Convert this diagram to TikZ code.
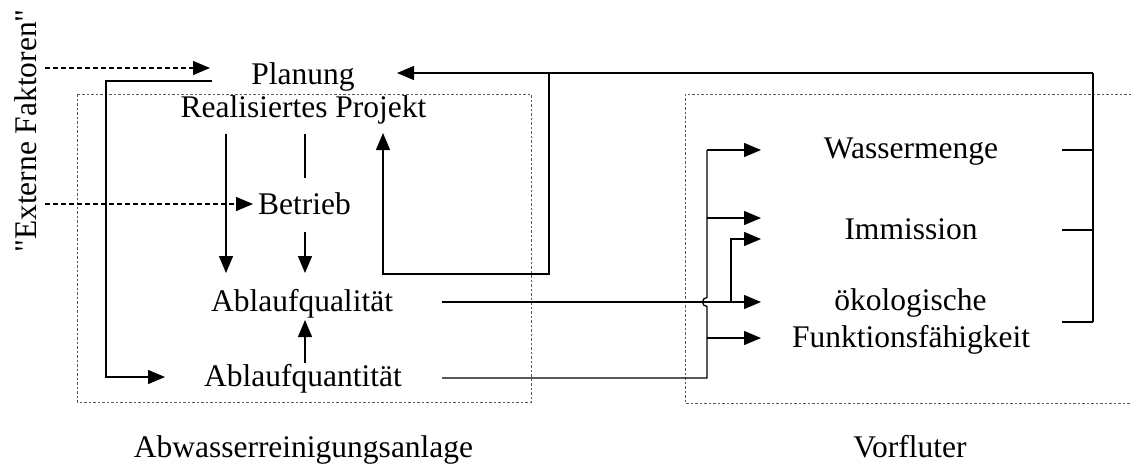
\documentclass[tikz,border=0pt]{standalone}
\usepackage{fontspec}
\setmainfont{Liberation Serif}
\newfontfamily\plainquote{Liberation Serif}[Ligatures=TeXOff]
\usetikzlibrary{arrows.meta}
\begin{document}
\begin{tikzpicture}[x=1pt,y=-1pt,
  lbl/.style={inner sep=0pt,anchor=base,font=\fontsize{31.5}{35}\selectfont},
  conn/.style={line width=1.3pt},
  arr/.style={conn,-{Triangle[length=17pt,width=14pt]}},
  extarr/.style={arr,dash pattern=on 5pt off 3pt},
  frame/.style={line width=0.9pt,gray!70!black,dash pattern=on 2.5pt off 2pt}]
\useasboundingbox (0,0) rectangle (1132,464);
% frames
\draw[frame] (77,94) rectangle (531,402);
\draw[frame] (1140,94) -- (685,94) -- (685,403) -- (1140,403);
% labels
\node[lbl] (plan)  at (303,84)  {Planung};
\node[lbl] (real)  at (303.5,117) {Realisiertes Projekt};
\node[lbl] (betr)  at (304.5,214) {Betrieb};
\node[lbl] (qual)  at (302,311) {Ablaufqualität};
\node[lbl] (quant) at (303,386) {Ablaufquantität};
\node[lbl] (wm)    at (911,158) {Wassermenge};
\node[lbl] (imm)   at (911,239) {Immission};
\node[lbl] (oeko)  at (910.5,310) {ökologische};
\node[lbl] (funk)  at (911,347) {Funktionsfähigkeit};
\node[lbl] (abw)   at (303.5,457) {Abwasserreinigungsanlage};
\node[lbl] (vorf)  at (910,457) {Vorfluter};
\node[inner sep=0pt,font=\fontsize{31.5}{35}\selectfont\plainquote,rotate=90] (ext) at (26,131) {"Externe Faktoren"};
% coordinates
\coordinate (e1) at (45,68);   \coordinate (e1t) at (210,68);
\coordinate (e2) at (45,204);  \coordinate (e2t) at (253,204);
\coordinate (p0) at (212,81);  \coordinate (p1) at (106,81);
\coordinate (p2) at (106,377); \coordinate (p3) at (165,377);
\coordinate (r1) at (226,134); \coordinate (r1t) at (226,273);
\coordinate (r2) at (305,134); \coordinate (r2e) at (305,178);
\coordinate (b1) at (305,232); \coordinate (b1t) at (305,273);
\coordinate (q1) at (305,363); \coordinate (q1t) at (305,320);
\coordinate (f0) at (1093,73); \coordinate (f1) at (549,73); \coordinate (ft) at (397,73);
\coordinate (fb) at (1093,322);
\coordinate (l1) at (549,274); \coordinate (l2) at (383,274); \coordinate (lt) at (383,133);
\coordinate (qa) at (442,302); \coordinate (qat) at (761,302);
\coordinate (qn) at (442,378); \coordinate (vx) at (707,378);
\coordinate (vt) at (707,150);
\coordinate (br) at (731,302); \coordinate (brt) at (761,239);
% external factors
\draw[extarr] (e1) -- (e1t);
\draw[extarr] (e2) -- (e2t);
% Planung -> Ablaufquantitaet
\draw[arr] (p0) -- (p1) -- (p2) -- (p3);
% Realisiertes Projekt
\draw[arr] (r1) -- (r1t);
\draw[conn] (r2) -- (r2e);
\draw[arr] (b1) -- (b1t);
\draw[arr] (q1) -- (q1t);
% feedback
\draw[arr] (f0) -- (ft);
\draw[conn] (f0) -- (fb);
\draw[conn] (1062,150) -- (1093,150);
\draw[conn] (1062,230) -- (1093,230);
\draw[conn] (1062,322) -- (fb);
\draw[arr] (f1) -- (l1) -- (l2) -- (lt);
% outputs to Vorfluter
\draw[arr] (qa) -- (qat);
\draw[arr] (br) -- (731,239) -- (brt);
\draw[conn] (qn) -- (vx) -- (707,306.5) arc[start angle=90,end angle=270,radius=4.5] -- (vt);
\draw[arr] (vt) -- (761,150);
\draw[arr] (707,218) -- (761,218);
\draw[arr] (707,338) -- (761,338);
\end{tikzpicture}
\end{document}
